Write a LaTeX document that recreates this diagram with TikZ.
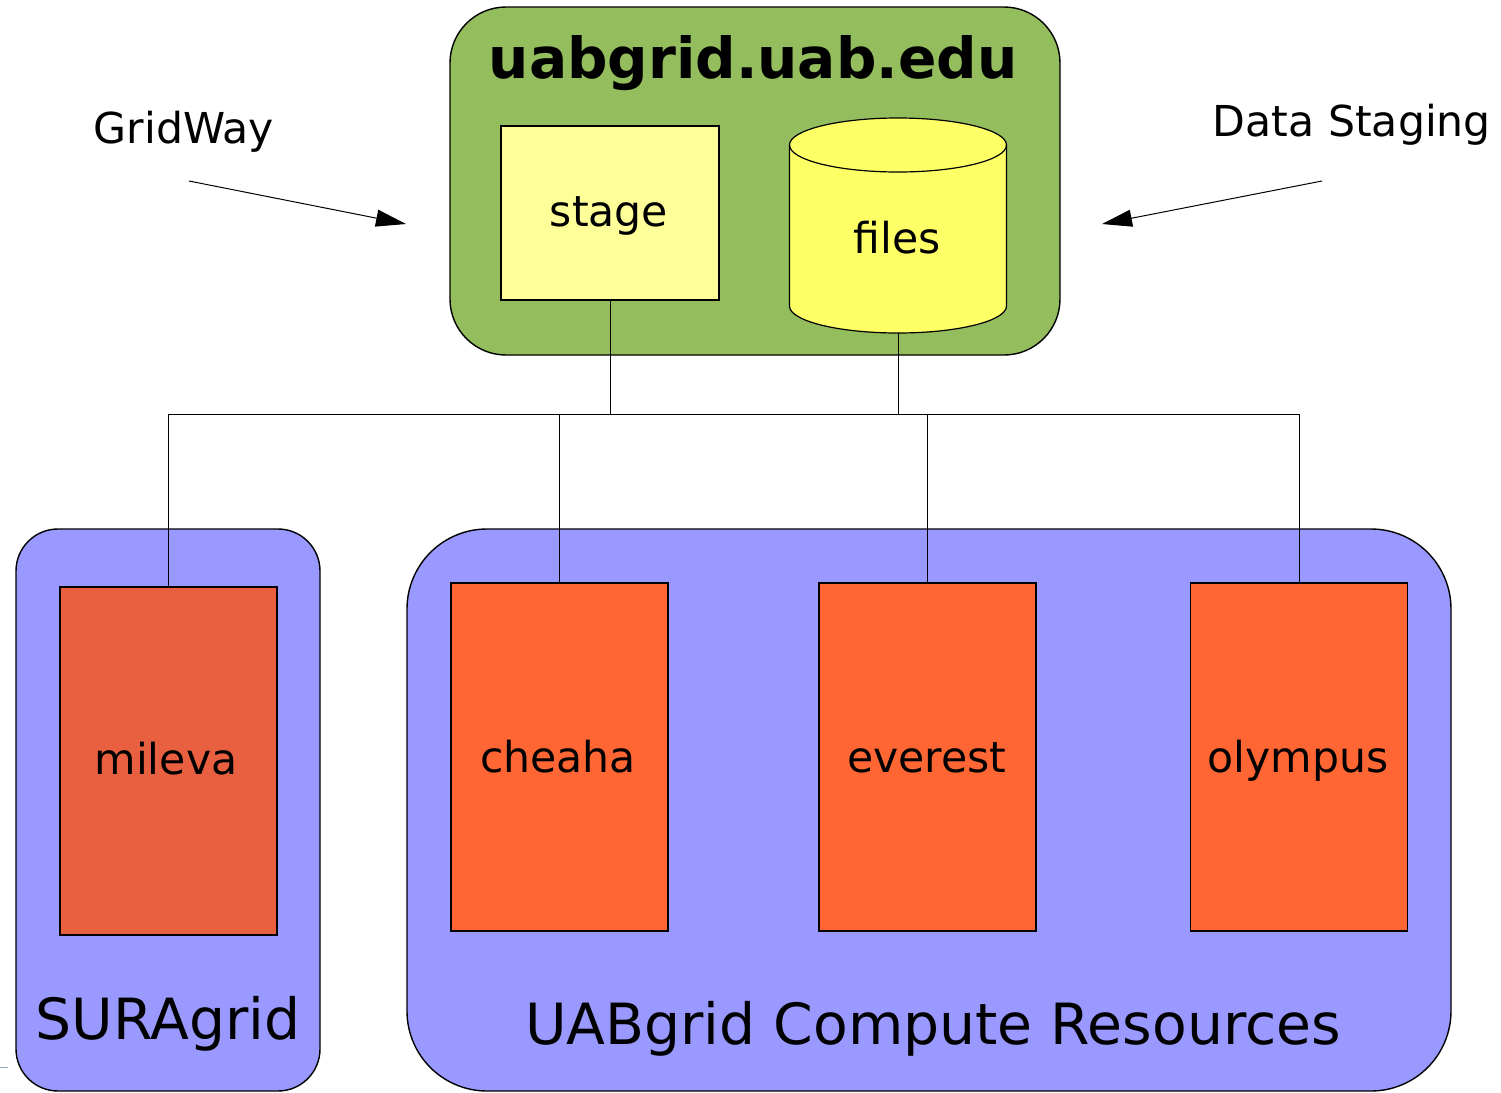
\documentclass[tikz,border=0pt]{standalone}
\usepackage{fontspec}
\setmainfont{DejaVu Sans}
\usetikzlibrary{arrows.meta}
\definecolor{grn}{HTML}{94BD5E}
\definecolor{purp}{HTML}{9999FF}
\definecolor{stagec}{HTML}{FFFF99}
\definecolor{filesc}{HTML}{FFFF66}
\definecolor{milc}{HTML}{E86040}
\definecolor{orc}{HTML}{FF6633}
\definecolor{stray}{HTML}{8FA3C8}
\begin{document}
\begin{tikzpicture}[x=0.5pt,y=-0.5pt,
  groupbox/.style={draw, line width=0.7pt, inner sep=0pt},
  hostbox/.style={draw, line width=0.7pt, inner sep=0pt, minimum width=108.5pt, minimum height=174pt},
  lbl/.style={font=\fontsize{21.3pt}{25pt}\selectfont, anchor=base, inner sep=0pt},
  biglbl/.style={font=\fontsize{28.4pt}{33pt}\selectfont, anchor=base, inner sep=0pt},
  conn/.style={line width=0.5pt},
  arr/.style={line width=0.5pt, -{Triangle[length=15pt,width=8.5pt]}}]
\useasboundingbox (0,0) rectangle (1501,1093);
% groups
\node[groupbox, fill=grn, rounded corners=28pt, minimum width=305pt, minimum height=174pt] (host) at (755,181) {};
\node[groupbox, fill=purp, rounded corners=21pt, minimum width=152pt, minimum height=281pt] (sura) at (168,810) {};
\node[groupbox, fill=purp, rounded corners=40pt, minimum width=522pt, minimum height=281pt] (uab) at (929,810) {};
% title
\node[font=\fontsize{28.3pt}{33pt}\selectfont\bfseries, anchor=base, inner sep=0pt] (title) at (753,78) {uabgrid.uab.edu};
% stage
\node[draw, line width=0.6pt, fill=stagec, inner sep=0pt, minimum width=109pt, minimum height=87pt] (stage) at (610,213) {};
\node[lbl] (stagetxt) at (609,226) {stage};
% files cylinder
\fill[filesc] (789.5,145) -- (789.5,306) arc (180:0:108.5 and 27) -- (1006.5,145) arc (0:-180:108.5 and 27) -- cycle;
\draw[line width=0.6pt] (789.5,145) -- (789.5,306) arc (180:0:108.5 and 27) -- (1006.5,145);
\draw[line width=0.6pt] (898,145) ellipse (108.5 and 27);
\coordinate (files) at (898,333);
\node[lbl] (filestxt) at (897,253) {files};
% side labels and arrows
\node[lbl] (gw) at (184,143) {GridWay};
\node[lbl] (ds) at (1352,136) {Data Staging};
\coordinate (gwA) at (189,181);
\coordinate (gwB) at (406,224);
\coordinate (dsA) at (1322,181);
\coordinate (dsB) at (1102,224);
\draw[arr] (gwA) -- (gwB);
\draw[arr] (dsA) -- (dsB);
% bus
\coordinate (busL) at (168.5,414);
\coordinate (busR) at (1299,414);
\draw[conn] (stage.south) -- (stage.south |- busL);
\draw[conn] (files) -- (files |- busL);
\draw[conn] (busL) -- (busR);
% compute boxes
\node[hostbox, fill=milc] (mileva) at (168.5,761) {};
\node[hostbox, fill=orc] (cheaha) at (559.5,757) {};
\node[hostbox, fill=orc] (everest) at (927.5,757) {};
\node[hostbox, fill=orc] (olympus) at (1299,757) {};
\draw[conn] (busL) -- (mileva.north);
\draw[conn] (cheaha.north |- busL) -- (cheaha.north);
\draw[conn] (everest.north |- busL) -- (everest.north);
\draw[conn] (busR) -- (olympus.north);
\node[lbl] (milevatxt) at (166,774) {mileva};
\node[lbl] (cheahatxt) at (558,772) {cheaha};
\node[lbl] (everesttxt) at (927,772) {everest};
\node[lbl] (olympustxt) at (1298,772) {olympus};
% group labels
\node[biglbl] (suratxt) at (168,1039) {SURAgrid};
\node[biglbl] (uabtxt) at (933,1044) {UABgrid Compute Resources};
% stray mark
\draw[stray, line width=0.5pt] (0,1067) -- (8,1067);
\end{tikzpicture}
\end{document}
